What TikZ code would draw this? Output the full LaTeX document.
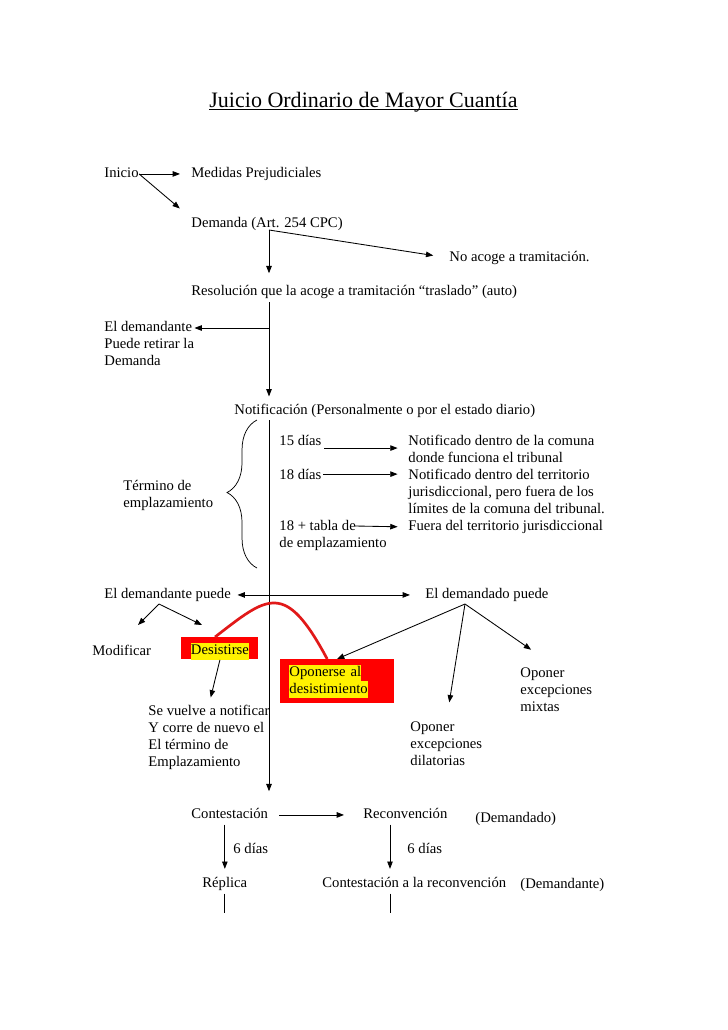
\documentclass[tikz,border=0pt]{standalone}
\usepackage{fontspec}
\setmainfont{Liberation Serif}
\usetikzlibrary{arrows.meta,decorations.pathreplacing}
\definecolor{curvered}{RGB}{225,25,25}
\setlength{\fboxsep}{0pt}
\newcommand{\hly}[1]{\colorbox{yellow}{\strut #1}}
\newcommand{\hlyd}[1]{\raisebox{-2.5pt}[\ht\strutbox][\dp\strutbox]{\hly{#1}}}

\begin{document}
\begin{tikzpicture}[x=0.8177pt,y=-0.8177pt,line width=0.7pt,
		every node/.style={font=\fontsize{12}{13.8}\selectfont},
		txt/.style={inner sep=0pt,anchor=base west,text height=0.7em,text depth=0.2em},
		blk/.style={inner sep=0pt,anchor=base west,align=left},
		arr/.style={-{Triangle[length=6pt,width=4.5pt]}},
		arrr/.style={{Triangle[length=6pt,width=4.5pt]}-{Triangle[length=6pt,width=4.5pt]}},
		redbox/.style={fill=red,anchor=north west,inner ysep=0pt,inner xsep=7.4pt}]
	\useasboundingbox (0,0) rectangle (728,1030);

	\node[inner sep=0pt,anchor=base west,font=\fontsize{18}{20}\selectfont]	(title)	at (209,107)	{Juicio Ordinario de Mayor Cuantía};
	\draw ([yshift=-2.2pt]title.base west) -- ([yshift=-2.2pt]title.base east);

	\node[txt]	(inicio)	at (104,177)	{Inicio};
	\node[txt]	(medidas)	at (191,177)	{Medidas Prejudiciales};
	\node[txt]	(demanda)	at (191,227)	{Demanda (Art. 254 CPC)};
	\node[txt]	(noacoge)	at (449,261)	{No acoge a tramitación.};
	\node[txt]	(resol)		at (191,295)	{Resolución que la acoge a tramitación “traslado” (auto)};
	\node[blk]	(retira)	at (104,365)	{El demandante\\Puede retirar la\\Demanda};
	\node[txt]	(notif)		at (234,414)	{Notificación (Personalmente o por el estado diario)};
	\node[txt]	(d15)		at (279,445)	{15 días};
	\node[txt]	(d18)		at (279,479)	{18 días};
	\node[blk]	(d18t)		at (279,547)	{18 + tabla de\\de emplazamiento};
	\node[blk]	(n15)		at (408,462)	{Notificado dentro de la comuna\\donde funciona el tribunal};
	\node[blk]	(n18)		at (408,513)	{Notificado dentro del territorio\\jurisdiccional, pero fuera de los\\límites de la comuna del tribunal.};
	\node[txt]	(fuera)		at (408,530)	{Fuera del territorio jurisdiccional};
	\node[blk]	(termino)	at (123,507)	{Término de\\emplazamiento};
	\node[txt]	(dte)		at (104,598)	{El demandante puede};
	\node[txt]	(ddo)		at (425,598)	{El demandado puede};
	\node[txt]	(modif)		at (92,655)	{Modificar};
	\node[redbox,minimum width=77*0.8177pt,minimum height=22*0.8177pt]	(desis)	at (181,637)	{\hlyd{Desistirse}};
	\node[redbox,minimum width=110*0.8177pt,minimum height=44*0.8177pt,text width=95*0.8177pt,align=left]	(opon)	at (280,659)	{\hly{Oponerse al}\\\hly{desistimiento}};
	\node[blk]	(sevuelve)	at (148,766)	{Se vuelve a notificar\\Y corre de nuevo el\\El término de\\Emplazamiento};
	\node[blk]	(mixtas)	at (520,711)	{Oponer\\excepciones\\mixtas};
	\node[blk]	(dilat)		at (410,765)	{Oponer\\excepciones\\dilatorias};
	\node[txt]	(contest)	at (191,818)	{Contestación};
	\node[txt]	(reconv)	at (363,818)	{Reconvención};
	\node[txt]	(ddolbl)	at (475,822)	{(Demandado)};
	\node[txt]	(d6a)		at (233,853)	{6 días};
	\node[txt]	(d6b)		at (407,853)	{6 días};
	\node[txt]	(replica)	at (202,887)	{Réplica};
	\node[txt]	(contrec)	at (322,887)	{Contestación a la reconvención};
	\node[txt]	(dtelbl)	at (520,888)	{(Demandante)};

	\coordinate (dm) at (269,230);
	\coordinate (rs) at (269,302);
	\coordinate (rt) at (269,328);
	\coordinate (nt) at (269,420);
	\coordinate (tb) at (355,526);
	\coordinate (dp) at (159,604);
	\coordinate (tm) at (138,625);
	\coordinate (tdz) at (202,625);
	\coordinate (dd) at (465,604);
	\coordinate (rc) at (390,821);
	\coordinate (rcb) at (rc |- contrec.south);

	\draw[arr,shorten >=9pt] (inicio.east) -- (medidas.west);
	\draw[arr,shorten >=12pt] (inicio.east) -- (demanda.north west);
	\draw[arr,shorten >=13pt] (dm) -- (noacoge.west);
	\draw[arr,shorten >=10.4pt] (dm) -- (dm |- resol.north);
	\draw[arr,shorten >=7pt] (rs) -- (rs |- notif.north);
	\draw[arr] (rt) -- (rt -| retira.east);
	\draw[arr,shorten >=14.5pt] (nt) -- (nt |- contest.north);
	\draw[decorate,decoration={brace,amplitude=24.5pt,aspect=0.51},line width=0.6pt] (257,568) -- (257,420);
	\draw[arr,shorten <=2pt,shorten >=8.5pt] ([yshift=-5pt]d15.east) -- ([yshift=-5pt]d15.east -| n15.west);
	\draw[arr,shorten <=1pt,shorten >=8.5pt] ([yshift=1.5pt]d18.east) -- ([yshift=1.5pt]d18.east -| n18.west);
	\draw[arr,shorten >=8.5pt] (tb) -- (fuera.west);
	\draw[arrr,shorten <=5.2pt,shorten >=12.3pt] (dte.east) -- (ddo.west);
	\draw[arr] (dp) -- (tm);
	\draw[arr] (dp) -- (tdz);
	\draw[arr] (dd) -- (opon.north);
	\draw[arr,shorten >=15.5pt] (dd) -- (dilat.north);
	\draw[arr,shorten >=25pt] (dd) -- (mixtas.north);
	\draw[arr,shorten >=6pt] (desis.south) -- (sevuelve.north);
	\draw[curvered,line width=2.2pt] ([xshift=-4pt]desis.north) .. controls (268,596) and (285,580) .. ([xshift=-8pt]opon.north);
	\draw[arr,shorten <=9pt,shorten >=15.5pt] (contest.east) -- (reconv.west);
	\draw[arr,shorten <=3pt,shorten >=7.5pt] (contest.south -| replica.north) -- (replica.north);
	\draw[arr,shorten <=3pt,shorten >=7.5pt] (rc) -- (rc |- contrec.north);
	\draw ([yshift=-3pt]replica.south) -- ++(0,19);
	\draw ([yshift=-3pt]rcb) -- ++(0,19);
\end{tikzpicture}
\end{document}
